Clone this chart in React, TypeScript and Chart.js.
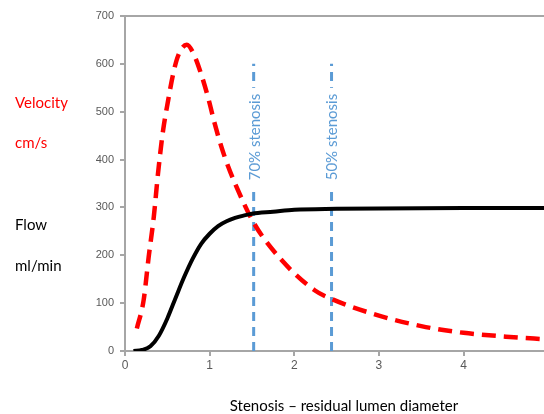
import React, { useEffect, useRef } from "react";
import { Chart, registerables } from "chart.js";

Chart.register(...registerables);

// Flow (ml/min) vs residual lumen diameter
const flowX = [0.1, 0.2, 0.3, 0.4, 0.5, 0.6, 0.7, 0.8, 0.9, 1.0, 1.1, 1.2, 1.3, 1.4, 1.5, 1.75, 2.0, 2.5, 3.0, 4.0, 5.0];
const flowY = [0, 2, 10, 32, 68, 112, 155, 193, 224, 245, 261, 271, 278, 283, 287, 291, 295, 297, 298, 299, 299];

// Velocity (cm/s) vs residual lumen diameter
const velX = [0.14, 0.22, 0.28, 0.34, 0.39, 0.45, 0.51, 0.57, 0.63, 0.73, 0.81, 0.91, 0.99, 1.06, 1.14, 1.22, 1.3, 1.52, 1.85, 2.24, 2.45, 3.0, 3.5, 4.0, 4.5, 5.0];
const velY = [47, 106, 197, 280, 371, 461, 524, 580, 618, 640, 621, 573, 524, 475, 426, 385, 350, 268, 190, 127, 108, 74, 52, 38, 30, 24];

// Stenosis marker lines
const stenosisLabels = ["70% stenosis", "50% stenosis"];
const stenosisX = [1.52, 2.44];
const stenosisTop = 600;
const stenosisLabelY = 447;

const xTicks = [0, 1, 2, 3, 4];
const yTicks = [0, 100, 200, 300, 400, 500, 600, 700];

const leftLabels = [
  { text: "Velocity", color: "#FF0000", y: 103 },
  { text: "cm/s", color: "#FF0000", y: 143 },
  { text: "Flow", color: "#000000", y: 225 },
  { text: "ml/min", color: "#000000", y: 266 },
];
const xTitle = "Stenosis \u2013 residual lumen diameter";

const AXIS_COLOR = "#A6A6A6";
const BLUE = "#5B9BD5";

export default function App() {
  const ref = useRef<HTMLCanvasElement | null>(null);

  useEffect(() => {
    if (!ref.current) return;

    const annotate = {
      id: "annotate",
      afterDatasetsDraw(chart: any) {
        const ctx = chart.ctx;
        const xs = chart.scales.x;
        const ys = chart.scales.y;
        const area = chart.chartArea;
        ctx.save();
        // top border
        ctx.strokeStyle = AXIS_COLOR;
        ctx.lineWidth = 2;
        ctx.beginPath();
        ctx.moveTo(area.left, area.top);
        ctx.lineTo(chart.width, area.top);
        ctx.stroke();

        // stenosis labels
        ctx.font = "15px Lato";
        ctx.textAlign = "center";
        ctx.textBaseline = "middle";
        stenosisLabels.forEach((lab, i) => {
          const px = xs.getPixelForValue(stenosisX[i]);
          const py = ys.getPixelForValue(stenosisLabelY);
          ctx.save();
          ctx.translate(px + 1, py);
          ctx.rotate(-Math.PI / 2);
          const w = ctx.measureText(lab).width;
          ctx.fillStyle = "#FFFFFF";
          ctx.fillRect(-w / 2 - 6, -7, w + 12, 14);
          ctx.fillStyle = BLUE;
          ctx.fillText(lab, 0, 0);
          ctx.restore();
        });

        // left labels
        ctx.textAlign = "left";
        leftLabels.forEach((l) => {
          ctx.fillStyle = l.color;
          ctx.fillText(l.text, 15, l.y);
        });

        // x title
        ctx.fillStyle = "#000000";
        ctx.textAlign = "center";
        ctx.fillText(xTitle, 344, 406);
        ctx.restore();
      },
    };

    const chart = new Chart(ref.current, {
      type: "line",
      data: {
        datasets: [
          {
            label: "Flow",
            data: flowX.map((x, i) => ({ x, y: flowY[i] })),
            borderColor: "#000000",
            borderWidth: 4,
            pointRadius: 0,
            cubicInterpolationMode: "monotone",
            fill: false,
          },
          {
            label: "Velocity",
            data: velX.map((x, i) => ({ x, y: velY[i] })),
            borderColor: "#FF0000",
            borderWidth: 4.5,
            borderDash: [14, 8],
            pointRadius: 0,
            cubicInterpolationMode: "monotone",
            fill: false,
          },
          ...stenosisX.map((sx, i) => ({
            label: stenosisLabels[i],
            data: [
              { x: sx, y: 0 },
              { x: sx, y: stenosisTop },
            ],
            borderColor: BLUE,
            borderWidth: 3,
            borderDash: [9, 6],
            pointRadius: 0,
            fill: false,
          })),
        ],
      },
      options: {
        animation: false,
        responsive: true,
        maintainAspectRatio: false,
        layout: { padding: { top: 16, right: 0, left: 0, bottom: 0 } },
        plugins: {
          legend: { display: false },
          tooltip: { enabled: false },
        },
        scales: {
          x: {
            type: "linear",
            min: 0,
            max: 4.95,
            afterBuildTicks: (s: any) => {
              s.ticks = xTicks.map((v) => ({ value: v }));
            },
            afterFit: (s: any) => {
              s.height = 63;
            },
            ticks: {
              font: { family: "Liberation Sans", size: 12 },
              color: "#595959",
              padding: 2,
              includeBounds: false,
            },
            grid: {
              display: true,
              drawOnChartArea: false,
              drawTicks: true,
              tickLength: 5,
              color: AXIS_COLOR,
              lineWidth: 2,
            },
            border: { display: true, color: AXIS_COLOR, width: 2 },
          },
          y: {
            type: "linear",
            min: 0,
            max: 700,
            afterBuildTicks: (s: any) => {
              s.ticks = yTicks.map((v) => ({ value: v }));
            },
            afterFit: (s: any) => {
              s.width = 125;
            },
            ticks: {
              font: { family: "Liberation Sans", size: 11 },
              color: "#595959",
              padding: 6,
            },
            grid: {
              display: true,
              drawOnChartArea: false,
              drawTicks: true,
              tickLength: 5,
              color: AXIS_COLOR,
              lineWidth: 2,
            },
            border: { display: true, color: AXIS_COLOR, width: 2 },
          },
        },
      },
      plugins: [annotate],
    } as any);

    return () => chart.destroy();
  }, []);

  return (
    <div style={{ position: "absolute", left: 0, top: 0, width: 544, height: 414 }}>
      <canvas ref={ref} />
    </div>
  );
}
